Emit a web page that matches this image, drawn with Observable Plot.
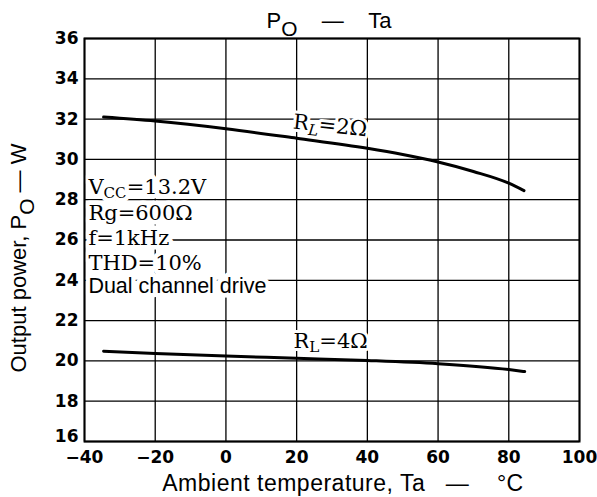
<!DOCTYPE html>
<html>
<head>
<meta charset="utf-8">
<script src="https://cdn.jsdelivr.net/npm/d3@7"></script>
<script src="https://cdn.jsdelivr.net/npm/@observablehq/plot@0.6"></script>
<style>
  html, body { margin: 0; padding: 0; background: #fff; }
  #chart svg { display: block; background: #fff; }
  .xlab text { letter-spacing: 0.5px; }
</style>
</head>
<body>
<div id="chart"></div>
<script>
// ---- data ----
const xTicks = [-40, -20, 0, 20, 40, 60, 80, 100];
const yTicks = [16, 18, 20, 22, 24, 26, 28, 30, 32, 34, 36];
const yTicksUpper = [18, 20, 22, 24, 26, 28, 30, 32, 34, 36];
const yTickBottom = [16];

const temp2 = [-34.6, -20, 0, 20, 40, 50, 60, 70, 80, 84.3];
const power2 = [32.1, 31.9, 31.52, 31.05, 30.55, 30.24, 29.87, 29.4, 28.82, 28.45];

const temp4 = [-34.6, -20, 0, 20, 40, 60, 80, 84.5];
const power4 = [20.48, 20.37, 20.24, 20.13, 20.02, 19.86, 19.57, 19.47];

const condLines = ["V_{CC}=13.2V", "Rg=600Ω", "f=1kHz", "THD=10%"];
const condY = [28.3, 26.97, 25.73, 24.49];
const driveLine = ["Dual channel drive"];
const driveY = [23.39];
const annoX = -38.9;

const curveLabels = ["R_{*L}=2Ω", "R_{L}=4Ω"];
const curveLabelX = [18.8, 19.1];
const curveLabelY = [31.53, 20.66];
const curveLabelRotate = [6, 0];

const titleText = "P_{+O}\u00a0\u00a0\u00a0\u00a0—\u00a0\u00a0\u00a0\u00a0Ta";
const yLabel = "Output power, P_{+O} — W";
const xLabel = "Ambient temperature, Ta\u00a0\u00a0\u00a0—\u00a0\u00a0\u00a0\u00a0°C";

// ---- tables ----
const s2 = temp2.map((t, i) => ({t, p: power2[i]}));
const s4 = temp4.map((t, i) => ({t, p: power4[i]}));
const cond = condLines.map((s, i) => ({s, y: condY[i]}));
const drive = driveLine.map((s, i) => ({s, y: driveY[i]}));
const labs = curveLabels.map((s, i) => ({s, x: curveLabelX[i], y: curveLabelY[i], r: curveLabelRotate[i]}));

const SANS = "'Liberation Sans', Arial, sans-serif";
const SERIF = "'DejaVu Serif', 'Liberation Serif', serif";
const TICKFONT = "'DejaVu Sans', sans-serif";

const chart = Plot.plot({
  width: 597,
  height: 497,
  marginLeft: 84,
  marginRight: 18,
  marginTop: 38,
  marginBottom: 56,
  style: {fontFamily: SANS, background: "#fff", color: "#000"},
  x: {domain: [-40, 100], ticks: xTicks, label: null},
  y: {domain: [16, 36], ticks: yTicks, label: null},
  marks: [
    Plot.ruleX(xTicks, {stroke: "#000", strokeWidth: 1.3}),
    Plot.ruleY(yTicks, {stroke: "#000", strokeWidth: 1.3}),
    Plot.text(cond, {x: () => annoX, y: "y", text: "s", textAnchor: "start", lineAnchor: "bottom",
      fontFamily: SERIF, fontSize: 21, fill: "#000", stroke: "#fff", strokeWidth: 9}),
    Plot.text(drive, {x: () => annoX, y: "y", text: "s", textAnchor: "start", lineAnchor: "bottom",
      fontFamily: SANS, fontSize: 21.5, fill: "#000", stroke: "#fff", strokeWidth: 9}),
    Plot.text(labs, {x: "x", y: "y", text: "s", rotate: "r", textAnchor: "start", lineAnchor: "bottom",
      fontFamily: SERIF, fontSize: 21, fill: "#000", stroke: "#fff", strokeWidth: 6}),
    Plot.line(s2, {x: "t", y: "p", stroke: "#000", strokeWidth: 3, curve: "monotone-x"}),
    Plot.line(s4, {x: "t", y: "p", stroke: "#000", strokeWidth: 3, curve: "monotone-x"}),
    Plot.frame({stroke: "#000", strokeWidth: 2}),
    Plot.axisX(xTicks, {tickSize: 0, tickPadding: 9, fontSize: 17, fontWeight: "bold", fill: "#000",
      fontFamily: TICKFONT, label: null}),
    Plot.axisY(yTicksUpper, {tickSize: 0, tickPadding: 6, fontSize: 17, fontWeight: "bold", fill: "#000",
      fontFamily: TICKFONT, label: null}),
    Plot.axisY(yTickBottom, {tickSize: 0, tickPadding: 6, fontSize: 17, fontWeight: "bold", fill: "#000",
      fontFamily: TICKFONT, label: null, dy: -5}),
    Plot.text([titleText], {frameAnchor: "top", textAnchor: "middle", lineAnchor: "bottom", dy: -11, dx: -3,
      fontSize: 22, fill: "#000", fontFamily: SANS}),
    Plot.text([yLabel], {frameAnchor: "left", textAnchor: "middle", rotate: -90, lineAnchor: "middle", dx: -66, dy: 18,
      fontSize: 22, fill: "#000", fontFamily: SANS}),
    Plot.text([xLabel], {frameAnchor: "bottom", textAnchor: "middle", lineAnchor: "bottom", dy: 49, dx: 11,
      fontSize: 23, fill: "#000", fontFamily: SANS, className: "xlab"})
  ]
});

// turn "_{...}" markers into real subscript tspans
function applySubs(svg) {
  const NS = "http://www.w3.org/2000/svg";
  for (const t of svg.querySelectorAll("text")) {
    const s = t.textContent;
    if (!s.includes("_{")) continue;
    const parts = s.split(/(_\{[^}]*\})/).filter(p => p !== "");
    t.textContent = "";
    let back = 0;
    for (const p of parts) {
      const ts = document.createElementNS(NS, "tspan");
      if (p.startsWith("_{")) {
        let c = p.slice(2, -1);
        let scale = 0.72, shift = 0.3;
        if (c.startsWith("*")) { c = c.slice(1); ts.setAttribute("font-style", "italic"); }
        if (c.startsWith("+")) { c = c.slice(1); scale = 0.95; shift = 0.4; }
        ts.setAttribute("font-size", (scale * 100) + "%");
        ts.setAttribute("dy", shift + "em");
        back = shift * scale;
        ts.textContent = c;
      } else {
        if (back) { ts.setAttribute("dy", (-back) + "em"); back = 0; }
        ts.textContent = p;
      }
      t.appendChild(ts);
    }
  }
}
applySubs(chart);
document.getElementById("chart").appendChild(chart);
</script>
</body>
</html>
